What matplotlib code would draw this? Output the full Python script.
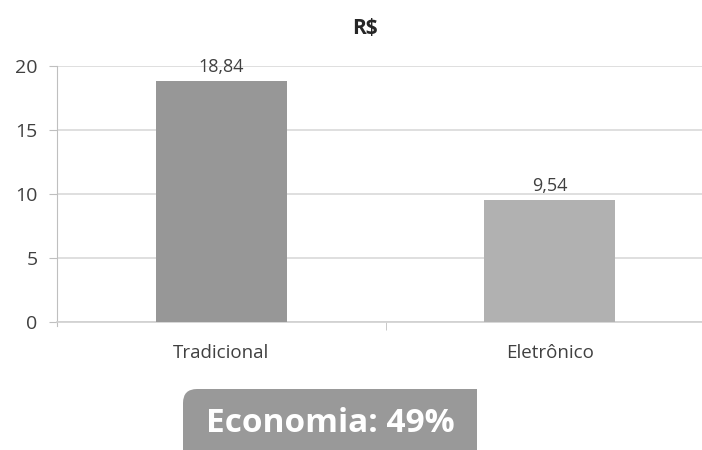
import matplotlib.pyplot as plt
from matplotlib.patches import FancyBboxPatch, Rectangle

categorias = ['Tradicional', 'Eletrônico']
valores = [18.84, 9.54]
cores = ['#979797', '#b1b1b1']
rotulos = ['18,84', '9,54']
yticks = [0, 5, 10, 15, 20]

plt.rcParams['font.family'] = ['Open Sans', 'DejaVu Sans']

fig = plt.figure(figsize=(7.02, 4.5), dpi=100)
ax = fig.add_axes([57/702, 128/450, 645/702, 256/450])

x = list(range(len(categorias)))
ax.bar(x, valores, width=0.4, color=cores, zorder=3)
for xi, v, r in zip(x, valores, rotulos):
    ax.text(xi, v + 0.35, r, ha='center', va='bottom', fontsize=13, color='#404040')

ax.set_xlim(-0.5, -0.5 + 645/328.5)
ax.set_ylim(0, 20)
ax.set_yticks(yticks)
ax.set_yticklabels([str(t) for t in yticks], fontsize=14, color='#404040')
ax.yaxis.grid(True, color='#d9d9d9', linewidth=1.2, zorder=0)
ax.tick_params(axis='y', length=6, color='#bfbfbf', pad=8)

# categorias sem ticks, tick separador entre elas
ax.set_xticks(x)
ax.set_xticklabels(categorias, fontsize=13.5, color='#404040')
ax.tick_params(axis='x', length=0, pad=16)
ax.set_xticks([0.5], minor=True)
ax.tick_params(axis='x', which='minor', length=6, color='#bfbfbf')

for s in ['top', 'right']:
    ax.spines[s].set_visible(False)
ax.spines['left'].set_color('#bfbfbf')
ax.spines['bottom'].set_color('#d0d0d0')
ax.spines['bottom'].set_linewidth(1.2)
ax.spines['left'].set_bounds(-0.35, 20)

fig.text(365/702, 1 - 29/450, 'R$', ha='center', va='center', fontsize=15,
         fontweight='bold', color='#262626')

caixa = FancyBboxPatch((183/702, -40/450), 294/702, (450 - 389 + 40)/450,
                       boxstyle='round,pad=0,rounding_size=0.02',
                       transform=fig.transFigure, facecolor='#999999',
                       edgecolor='none', mutation_aspect=702/450)
fig.patches.append(caixa)
canto = Rectangle((330/702, 0), 147/702, (450 - 389)/450,
                  transform=fig.transFigure, facecolor='#999999', edgecolor='none')
fig.patches.append(canto)
fig.text(330/702, 1 - 424/450, 'Economia: 49%', ha='center', va='center',
         fontsize=24, fontweight='bold', color='white')

fig.savefig('out.png', dpi=100)
